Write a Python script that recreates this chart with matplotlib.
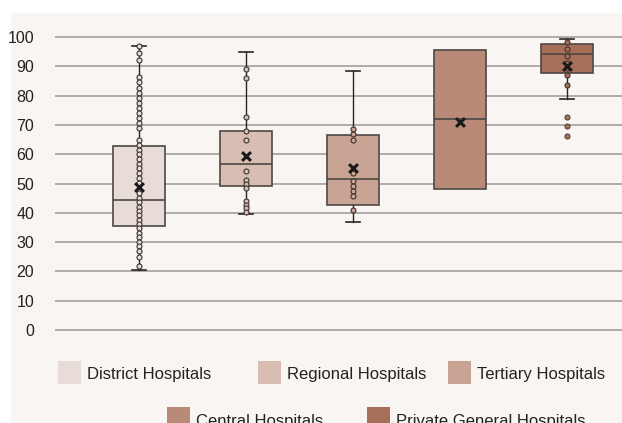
import numpy as np
import matplotlib.pyplot as plt
from matplotlib.patches import Rectangle

plt.rcParams['font.family'] = ['Liberation Sans', 'DejaVu Sans']

groups = ['District Hospitals', 'Regional Hospitals', 'Tertiary Hospitals',
          'Central Hospitals', 'Private General Hospitals']
colors = ['#e8dcd8', '#d8bdb2', '#c9a495', '#b88a77', '#a86f58']

# box stats
q1 = [35.5, 49.2, 42.7, 48.0, 87.7]
med = [44.4, 56.7, 51.5, 72.0, 94.2]
q3 = [62.8, 68.0, 66.6, 95.6, 97.6]
whislo = [20.5, 39.6, 36.9, 48.0, 78.8]
whishi = [96.9, 95.0, 88.4, 95.6, 99.3]
means = [48.9, 59.4, 55.3, 71.0, 90.1]

district_pts = [96.9, 94.7, 92.3, 86.2, 84.5, 82.7, 81.0, 79.1, 77.4, 75.7, 74.0,
                72.3, 70.5, 68.8, 64.7, 63.1, 61.4, 60.0, 58.4, 56.7, 55.2, 53.5,
                51.8, 50.3, 46.6, 45.2, 43.8, 42.1, 40.7, 39.2, 37.5, 36.2, 34.7,
                33.2, 31.6, 30.2, 28.7, 27.1, 25.0, 21.8]
regional_pts = [89.2, 86.0, 72.6, 67.9, 64.8, 54.1, 51.3, 50.0, 48.6, 44.0,
                42.7, 41.5, 40.4]
tertiary_pts = [68.7, 66.8, 64.7, 53.5, 51.0, 49.0, 47.3, 45.7, 41.0]
central_pts = []
private_pts = [98.2, 96.0, 93.5, 91.0, 89.3, 87.0, 83.7]
inner_pts = [district_pts, regional_pts, tertiary_pts, central_pts, private_pts]
outliers = [[], [], [], [], [72.6, 69.5, 66.3]]

yticks = list(range(0, 101, 10))

W, H = 622, 423
fig = plt.figure(figsize=(W / 100, H / 100), dpi=100)
fig.patch.set_facecolor('white')
fig.patches.append(Rectangle((11 / W, 0), 1, 1 - 13 / H, transform=fig.transFigure,
                             facecolor='#f8f5f2', edgecolor='none', zorder=-5))

# axes placed in pixel terms: x from 55 to 622, 0 at y=330 and 100 at y=37
ppu = (330 - 37) / 100
ylo, yhi = -5, 105
bot_px = 330 + 5 * ppu
top_px = 37 - 5 * ppu
ax = fig.add_axes([55 / W, 1 - bot_px / H, 1 - 55 / W, (bot_px - top_px) / H])
ax.set_facecolor('none')
ax.set_zorder(1)

stats = []
for i in range(len(groups)):
    stats.append(dict(q1=q1[i], med=med[i], q3=q3[i], whislo=whislo[i],
                      whishi=whishi[i], mean=means[i], fliers=[]))

bp = ax.bxp(stats, positions=range(len(groups)), widths=0.477, patch_artist=True,
            showmeans=False, showfliers=False,
            boxprops=dict(edgecolor='#4d4843', linewidth=1.2),
            medianprops=dict(color='#4d4843', linewidth=1.2),
            whiskerprops=dict(color='#2a2522', linewidth=1.0),
            capprops=dict(color='#2a2522', linewidth=1.2), capwidths=0.14)
for patch, c in zip(bp['boxes'], colors):
    patch.set_facecolor(c)
    patch.set_zorder(2)
for ln in bp['whiskers'] + bp['caps'] + bp['medians']:
    ln.set_zorder(3)
# no whiskers where they coincide with the box
for i in range(len(groups)):
    if whislo[i] == q1[i] and whishi[i] == q3[i]:
        for ln in bp['caps'][2 * i:2 * i + 2] + bp['whiskers'][2 * i:2 * i + 2]:
            ln.set_visible(False)

for i, pts in enumerate(inner_pts):
    if pts:
        ax.scatter([i] * len(pts), pts, s=13, facecolor=colors[i], edgecolor='#3a3330',
                   linewidth=0.8, zorder=4, clip_on=False)
for i, pts in enumerate(outliers):
    if pts:
        ax.scatter([i] * len(pts), pts, s=14, facecolor=colors[i], edgecolor='#3a3330',
                   linewidth=0.6, zorder=4)

ax.scatter(range(len(groups)), means, marker='x', s=40, color='#1a1a1a',
           linewidths=2.2, zorder=5)

ax.set_xlim(-84 / 107, (622 - 139) / 107)
ax.set_ylim(ylo, yhi)
ax.set_yticks(yticks)
ax.set_yticklabels([str(t) for t in yticks], fontsize=11.5, color='#222222')
ax.set_xticks([])
ax.tick_params(axis='y', length=0, pad=15)
ax.grid(axis='y', color='#b0aca8', linewidth=1.4, zorder=0)
ax.set_axisbelow(True)
for s in ax.spines.values():
    s.set_visible(False)

# legend, two centred rows
leg_pos = [(58, 361), (258, 361), (448, 361), (167, 407), (367, 407)]
for (px, py), c, name in zip(leg_pos, colors, groups):
    fig.patches.append(Rectangle((px / W, 1 - (py + 23) / H), 23 / W, 23 / H,
                                 transform=fig.transFigure, facecolor=c,
                                 edgecolor='none', zorder=2))
    fig.text((px + 29) / W, 1 - (py + 14) / H, name, fontsize=12, color='#222222',
             va='center', ha='left')

fig.savefig('out.png', dpi=100)
